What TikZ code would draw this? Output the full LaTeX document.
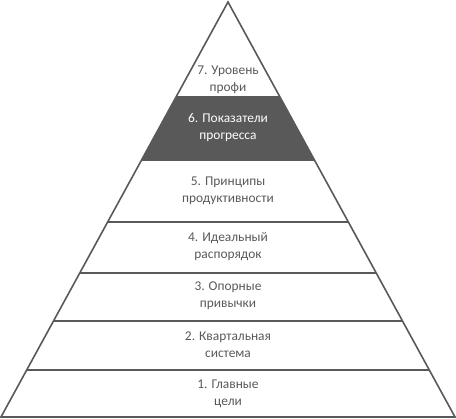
\documentclass[tikz,border=0pt]{standalone}
\usepackage{fontspec}
\setmainfont{Carlito}
\usepackage{xcolor}
\usepackage{tikz}

\definecolor{pyrgray}{HTML}{595959}

\tikzset{
  lvl/.style={align=center, text=pyrgray, font=\fontsize{13.4}{17}\selectfont},
  lvldark/.style={lvl, text=white},
  edge/.style={draw=pyrgray, line width=1.6pt, line join=miter}
}

\begin{document}
\begin{tikzpicture}[x=1pt,y=-1pt]
     \useasboundingbox (0,0) rectangle (456,419);
     \coordinate (A) at (228,2);
     \coordinate (L) at (1,417);
     \coordinate (R) at (455,417);
     \begin{scope}
          \clip (A) -- (L) -- (R) -- cycle;
          \fill[pyrgray] (0,97) rectangle (456,160);
          \foreach \y in {97,160,222,273,321,370}
               \draw[edge] (0,\y) -- (456,\y);
     \end{scope}
     \draw[edge] (A) -- (L) -- (R) -- cycle;
     % levels
     \node[lvl] (lvl7) at (228,80) {7. Уровень\\профи};
     \node[lvldark] (lvl6) at (228,128) {6. Показатели\\прогресса};
     \node[lvl] (lvl5) at (228,191) {5. Принципы\\продуктивности};
     \node[lvl] (lvl4) at (228,247) {4. Идеальный\\распорядок};
     \node[lvl] (lvl3) at (228,296) {3. Опорные\\привычки};
     \node[lvl] (lvl2) at (228,345) {2. Квартальная\\система};
     \node[lvl] (lvl1) at (228,394) {1. Главные\\цели};
\end{tikzpicture}
\end{document}
